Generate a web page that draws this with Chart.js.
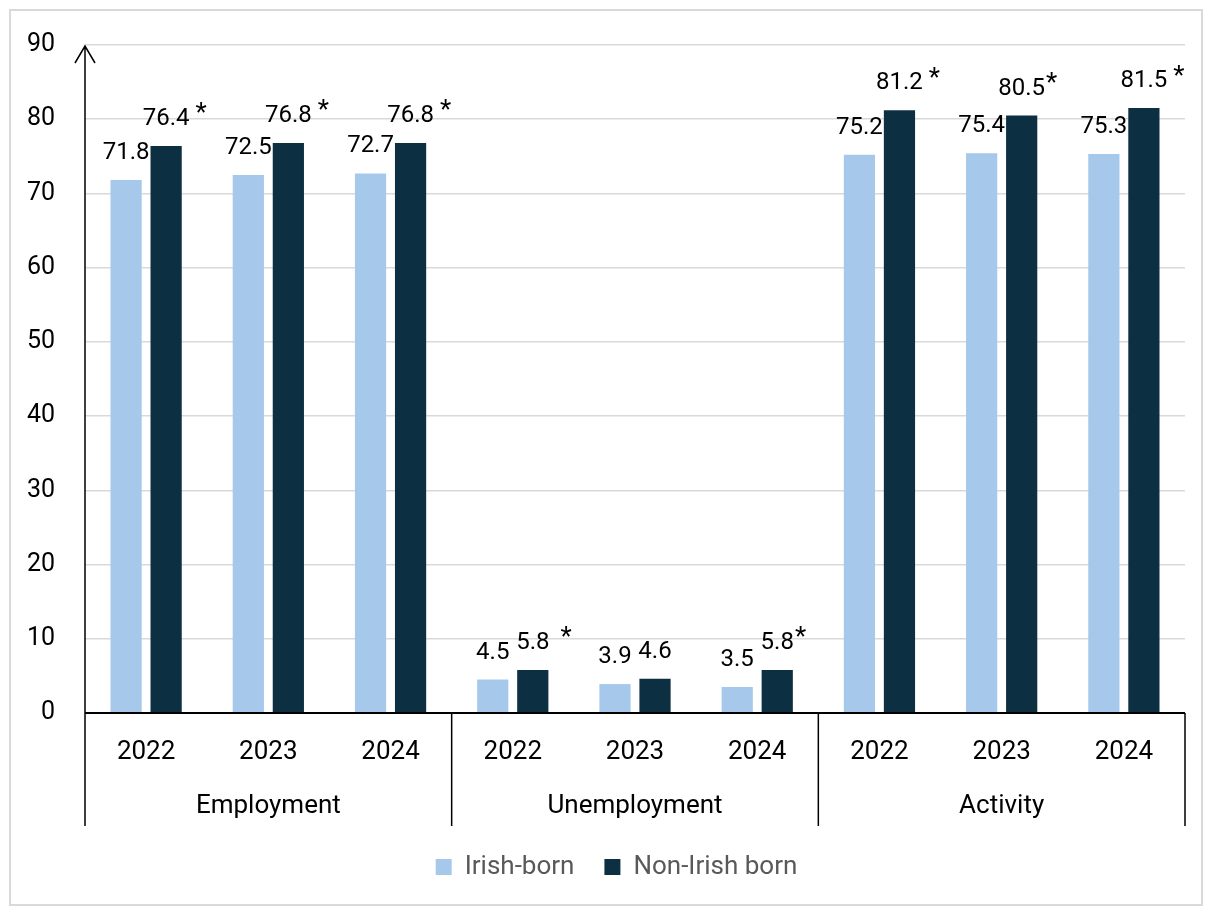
<!doctype html>
<html>

<head>
    <title>Labour market by place of birth</title>
    <script src="https://cdn.jsdelivr.net/npm/chart.js"></script>
    <style>
        body { margin: 0; background: #fff; }
        #wrap { width: 1212px; height: 911px; }
    </style>
</head>

<body>
    <div id="wrap"><canvas id="grafico"></canvas></div>

    <script>
        // data
        const grupos = ['Employment', 'Unemployment', 'Activity'];
        const anos = ['2022', '2023', '2024', '2022', '2023', '2024', '2022', '2023', '2024'];
        const irlandeses = [71.8, 72.5, 72.7, 4.5, 3.9, 3.5, 75.2, 75.4, 75.3];
        const naoIrlandeses = [76.4, 76.8, 76.8, 5.8, 4.6, 5.8, 81.2, 80.5, 81.5];
        // significance marker after the Non-Irish born value
        const marcas = [' *', ' *', ' *', '  *', '', '*', ' *', '*', ' *'];
        const yTicks = [0, 10, 20, 30, 40, 50, 60, 70, 80, 90];

        const fonte = 'Roboto, "Liberation Sans", sans-serif';

        // border, y axis arrow, group labels, separators, value labels
        const extras = {
            id: 'extras',
            afterLayout(chart) {
                // legend sits a little right of the canvas centre
                chart.legend.left += 48;
            },
            beforeDraw(chart) {
                const ctx = chart.ctx;
                ctx.save();
                ctx.fillStyle = '#fff';
                ctx.fillRect(0, 0, chart.width, chart.height);
                ctx.strokeStyle = '#d9d9d9';
                ctx.lineWidth = 2;
                ctx.strokeRect(10, 10, 1192, 895);
                ctx.restore();
            },
            afterDatasetsDraw(chart) {
                const ctx = chart.ctx;
                const x = chart.scales.x;
                const area = chart.chartArea;
                ctx.save();

                // y axis with arrow
                ctx.strokeStyle = '#000';
                ctx.lineWidth = 1.5;
                ctx.beginPath();
                ctx.moveTo(area.left, area.bottom);
                ctx.lineTo(area.left, area.top + 1);
                ctx.moveTo(area.left - 10, area.top + 18);
                ctx.lineTo(area.left, area.top + 1);
                ctx.lineTo(area.left + 10, area.top + 18);
                ctx.stroke();

                // x axis line
                ctx.lineWidth = 2;
                ctx.beginPath();
                ctx.moveTo(area.left, area.bottom);
                ctx.lineTo(area.right, area.bottom);
                ctx.stroke();

                // group separators
                const passo = (area.right - area.left) / anos.length;
                ctx.lineWidth = 1.5;
                ctx.beginPath();
                for (let g = 0; g <= grupos.length; g++) {
                    const sx = area.left + g * 3 * passo;
                    ctx.moveTo(sx, area.bottom);
                    ctx.lineTo(sx, area.bottom + 113);
                }
                ctx.stroke();

                // group labels
                ctx.fillStyle = '#000';
                ctx.font = '26px ' + fonte;
                ctx.textAlign = 'center';
                ctx.textBaseline = 'middle';
                grupos.forEach((g, i) => {
                    const cx = (x.getPixelForValue(i * 3) + x.getPixelForValue(i * 3 + 2)) / 2;
                    ctx.fillText(g, cx, area.bottom + 93);
                });

                // value labels
                ctx.font = '24px ' + fonte;
                chart.data.datasets.forEach((ds, di) => {
                    const meta = chart.getDatasetMeta(di);
                    meta.data.forEach((bar, i) => {
                        const txt = ds.data[i].toFixed(1);
                        const ly = bar.y - 27;
                        ctx.textAlign = 'center';
                        ctx.fillText(txt, bar.x, ly);
                        if (di === 1 && marcas[i]) {
                            const w = ctx.measureText(txt).width;
                            const gap = (marcas[i].length - 1) * 5;
                            ctx.textAlign = 'left';
                            ctx.font = '26px ' + fonte;
                            ctx.fillText('*', bar.x + w / 2 + gap + 1, ly - 4);
                            ctx.font = '24px ' + fonte;
                        }
                    });
                });
                ctx.restore();
            }
        };

        new Chart(document.getElementById('grafico').getContext('2d'), {
            type: 'bar',
            data: {
                labels: anos,
                datasets: [{
                    label: 'Irish-born',
                    data: irlandeses,
                    backgroundColor: '#a6c9eb'
                }, {
                    label: 'Non-Irish born',
                    data: naoIrlandeses,
                    backgroundColor: '#0d2f42'
                }]
            },
            options: {
                responsive: true,
                maintainAspectRatio: false,
                animation: false,
                categoryPercentage: 0.655,
                barPercentage: 0.78,
                layout: {
                    padding: { left: 0, top: 42, right: 27, bottom: 21 }
                },
                plugins: {
                    tooltip: { enabled: false },
                    legend: {
                        position: 'bottom',
                        labels: {
                            boxWidth: 16,
                            boxHeight: 16,
                            padding: 30,
                            color: '#595959',
                            font: { family: fonte, size: 26 }
                        }
                    }
                },
                scales: {
                    x: {
                        grid: { display: false, drawTicks: false },
                        border: { display: false },
                        ticks: {
                            color: '#000',
                            padding: 24,
                            font: { family: fonte, size: 26 }
                        },
                        afterFit(scale) { scale.height = 111; }
                    },
                    y: {
                        min: 0,
                        max: 90,
                        afterBuildTicks(scale) {
                            scale.ticks = yTicks.map(v => ({ value: v }));
                        },
                        grid: { color: '#d9d9d9', lineWidth: 1.5, drawTicks: false },
                        border: { display: false },
                        ticks: {
                            color: '#000',
                            padding: 30,
                            font: { family: fonte, size: 25 }
                        },
                        afterFit(scale) { scale.width = 85; }
                    }
                }
            },
            plugins: [extras]
        });
    </script>
</body>
</html>
